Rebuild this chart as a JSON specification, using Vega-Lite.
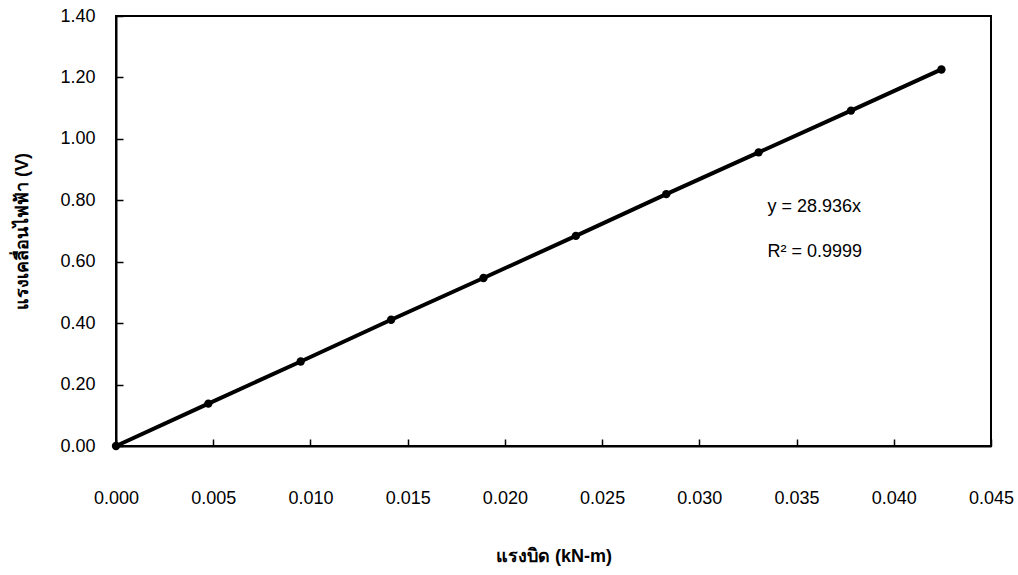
{
  "$schema": "https://vega.github.io/schema/vega-lite/v6.json",
  "autosize": "none",
  "width": 875,
  "height": 430,
  "padding": {"left": 116, "top": 16, "right": 27, "bottom": 129},
  "background": "white",
  "config": {
    "view": {"stroke": "black", "strokeWidth": 2},
    "font": "Liberation Sans",
    "axis": {
      "grid": false,
      "domainColor": "black",
      "domainWidth": 2,
      "tickColor": "black",
      "tickWidth": 1.5,
      "labelFlush": false,
      "labelFont": "Liberation Sans",
      "labelFontSize": 18,
      "labelColor": "black",
      "titleFont": "Liberation Sans",
      "titleFontSize": 18,
      "titleColor": "black",
      "titleFontWeight": "bold"
    }
  },
  "datasets": {
    "pts": [
      {"torque": 0.0, "emf": 0.0},
      {"torque": 0.00475, "emf": 0.138},
      {"torque": 0.0095, "emf": 0.275},
      {"torque": 0.01415, "emf": 0.411},
      {"torque": 0.0189, "emf": 0.547},
      {"torque": 0.02365, "emf": 0.684},
      {"torque": 0.0283, "emf": 0.820},
      {"torque": 0.03305, "emf": 0.956},
      {"torque": 0.0378, "emf": 1.092},
      {"torque": 0.04245, "emf": 1.226}
    ],
    "notes": [
      {"torque": 0.0335, "emf": 0.778, "label": "y = 28.936x"},
      {"torque": 0.0335, "emf": 0.632, "label": "R² = 0.9999"}
    ]
  },
  "layer": [
    {
      "data": {"name": "pts"},
      "mark": {"type": "line", "color": "black", "strokeWidth": 4},
      "encoding": {
        "x": {
          "field": "torque", "type": "quantitative",
          "scale": {"domain": [0, 0.045], "nice": false},
          "axis": {
            "values": [0, 0.005, 0.01, 0.015, 0.02, 0.025, 0.03, 0.035, 0.04, 0.045],
            "format": ".3f",
            "tickSize": -7,
            "labelPadding": 50,
            "titlePadding": 40,
            "title": "แรงบิด (kN-m)"
          }
        },
        "y": {
          "field": "emf", "type": "quantitative",
          "scale": {"domain": [0, 1.4], "nice": false},
          "axis": {
            "values": [0, 0.2, 0.4, 0.6, 0.8, 1.0, 1.2, 1.4],
            "format": ".2f",
            "tickSize": -7,
            "labelPadding": 28,
            "titlePadding": 28,
            "title": "แรงเคลื่อนไฟฟ้า (V)"
          }
        }
      }
    },
    {
      "data": {"name": "pts"},
      "mark": {"type": "point", "filled": true, "color": "black", "size": 70, "opacity": 1},
      "encoding": {
        "x": {"field": "torque", "type": "quantitative"},
        "y": {"field": "emf", "type": "quantitative"}
      }
    },
    {
      "data": {"name": "notes"},
      "mark": {"type": "text", "align": "left", "baseline": "middle", "fontSize": 18, "color": "black", "font": "Liberation Sans"},
      "encoding": {
        "x": {"field": "torque", "type": "quantitative"},
        "y": {"field": "emf", "type": "quantitative"},
        "text": {"field": "label"}
      }
    }
  ]
}
